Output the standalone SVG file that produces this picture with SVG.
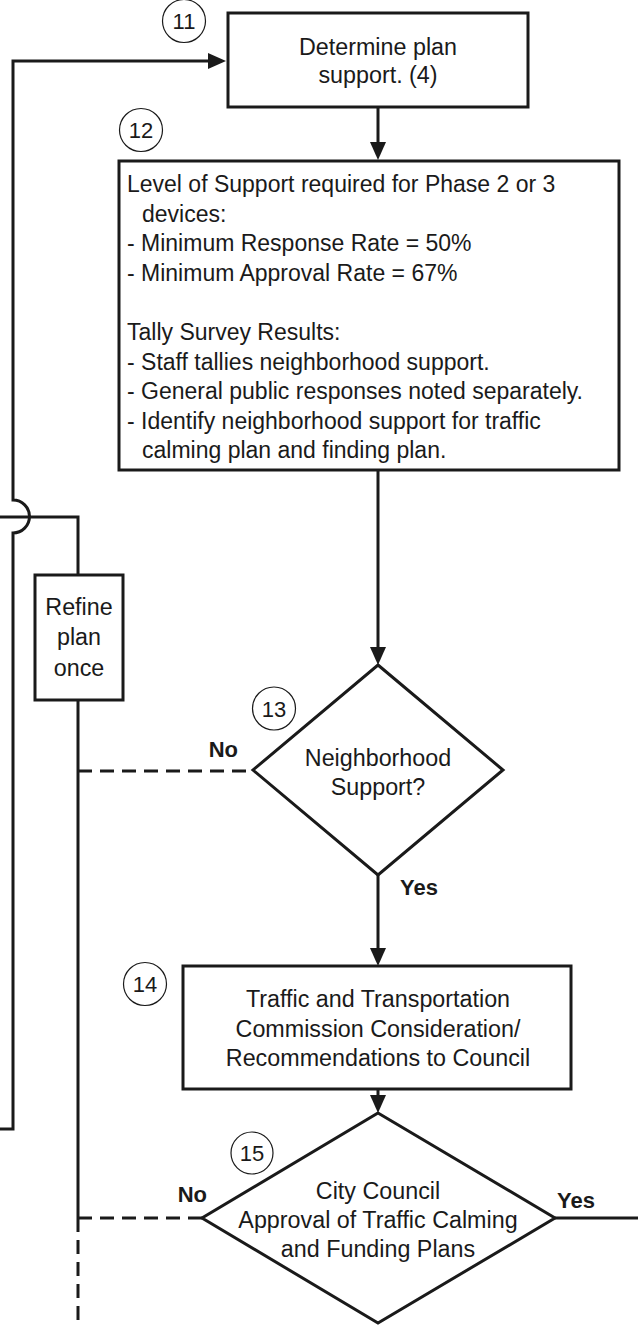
<svg xmlns="http://www.w3.org/2000/svg" width="638" height="1325" viewBox="0 0 638 1325">
<defs>
<marker id="arr" markerUnits="userSpaceOnUse" markerWidth="18" markerHeight="16" refX="10" refY="8" orient="auto">
<path d="M0,0 L18,8 L0,16 z" fill="#1a1a1a"/>
</marker>
<style>
.box{fill:#fff;stroke:#1a1a1a;stroke-width:3}
.ln{fill:none;stroke:#1a1a1a;stroke-width:3}
.dash{fill:none;stroke:#1a1a1a;stroke-width:3;stroke-dasharray:14 8}
.circ{fill:#fff;stroke:#1a1a1a;stroke-width:1.2}
.t{font-family:"Liberation Sans",Arial,sans-serif;font-size:23.3px;fill:#1a1a1a}
.s{font-size:23px}
.c{text-anchor:middle}
.num{font-family:"Liberation Sans",Arial,sans-serif;font-size:22px;fill:#1a1a1a;text-anchor:middle}
.lbl{font-family:"Liberation Sans",Arial,sans-serif;font-size:22px;font-weight:bold;fill:#1a1a1a}
</style>
</defs>
<rect width="638" height="1325" fill="#fff"/>
<g id="connectors">
<path class="ln" d="M0,1129 H13 V533 A16.5,16.5 0 0 0 13,500 V61 H218" marker-end="url(#arr)"/>
<path class="ln" d="M0,517 H78 V575"/>
<path class="ln" d="M378,107 V152" marker-end="url(#arr)"/>
<path class="ln" d="M378,470 V657" marker-end="url(#arr)"/>
<path class="ln" d="M378,875 V958" marker-end="url(#arr)"/>
<path class="ln" d="M378,1089 V1105" marker-end="url(#arr)"/>
<path class="ln" d="M78,700 V1218"/>
<path class="dash" d="M78,1218 V1325"/>
<path class="dash" d="M78,771 H253"/>
<path class="dash" d="M78,1218 H202"/>
<path class="ln" d="M555,1218 H638"/>
<text class="lbl" x="238" y="757" text-anchor="end">No</text>
<text class="lbl" x="400" y="895">Yes</text>
<text class="lbl" x="207" y="1202" text-anchor="end">No</text>
<text class="lbl" x="557" y="1208">Yes</text>
</g>
<g id="n11">
<rect class="box" x="228" y="13" width="300" height="94"/>
<text class="t c" x="378" y="55">Determine plan</text>
<text class="t c" x="378" y="83">support. (4)</text>
<circle class="circ" cx="184" cy="21" r="21.5"/>
<text class="num" x="184" y="29">11</text>
</g>
<g id="n12">
<rect class="box" x="119" y="161" width="500" height="309"/>
<text class="t s" x="127" y="192">Level of Support required for Phase 2 or 3</text>
<text class="t s" x="142" y="221.6">devices:</text>
<text class="t s" x="127" y="251.2">- Minimum Response Rate = 50%</text>
<text class="t s" x="127" y="280.8">- Minimum Approval Rate = 67%</text>
<text class="t s" x="127" y="340">Tally Survey Results:</text>
<text class="t s" x="127" y="369.6">- Staff tallies neighborhood support.</text>
<text class="t s" x="127" y="399.2">- General public responses noted separately.</text>
<text class="t s" x="127" y="428.8">- Identify neighborhood support for traffic</text>
<text class="t s" x="142" y="458.4">calming plan and finding plan.</text>
<circle class="circ" cx="141" cy="130" r="21.5"/>
<text class="num" x="141" y="138">12</text>
</g>
<g id="refine">
<rect class="box" x="35" y="575" width="88" height="125"/>
<text class="t c" x="79" y="615">Refine</text>
<text class="t c" x="79" y="645">plan</text>
<text class="t c" x="79" y="676">once</text>
</g>
<g id="n13">
<polygon class="box" points="378,665 503,770 378,875 253,770"/>
<text class="t c" x="378" y="766">Neighborhood</text>
<text class="t c" x="378" y="795">Support?</text>
<circle class="circ" cx="274" cy="708.5" r="21.5"/>
<text class="num" x="274" y="716.5">13</text>
</g>
<g id="n14">
<rect class="box" x="183" y="966" width="388" height="123"/>
<text class="t c" x="378" y="1007">Traffic and Transportation</text>
<text class="t c" x="378" y="1037">Commission Consideration/</text>
<text class="t c" x="378" y="1066">Recommendations to Council</text>
<circle class="circ" cx="145" cy="984" r="21.5"/>
<text class="num" x="145" y="992">14</text>
</g>
<g id="n15">
<polygon class="box" points="378,1113 555,1218 378,1323 202,1218"/>
<text class="t c" x="378" y="1199">City Council</text>
<text class="t c" x="378" y="1228">Approval of Traffic Calming</text>
<text class="t c" x="378" y="1257">and Funding Plans</text>
<circle class="circ" cx="252" cy="1153" r="21"/>
<text class="num" x="252" y="1161">15</text>
</g>
</svg>
